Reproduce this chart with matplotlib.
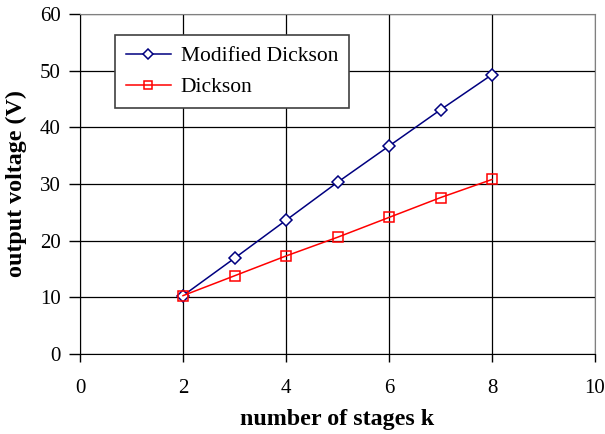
import matplotlib
matplotlib.use("Agg")
import matplotlib.pyplot as plt

# number of stages and measured output voltages
stages = [2, 3, 4, 5, 6, 7, 8]
modified_dickson = [10.3, 16.9, 23.6, 30.3, 36.7, 43.1, 49.3]
dickson = [10.3, 13.8, 17.3, 20.6, 24.1, 27.6, 30.8]

x_ticks = [0, 2, 4, 6, 8, 10]
y_ticks = [0, 10, 20, 30, 40, 50, 60]

plt.rcParams['font.family'] = ['Liberation Serif', 'DejaVu Serif']

fig = plt.figure(figsize=(6.05, 4.34), dpi=100)
ax = fig.add_axes([80 / 605, 1 - 354 / 434, 515 / 605, 340 / 434])

ax.plot(stages, modified_dickson, color='#000080', lw=1.1, marker='D', ms=6,
        mfc='white', mec='#000080', mew=1.1, label='Modified Dickson')
ax.plot(stages, dickson, color='#ff0000', lw=1.1, marker='s', ms=7,
        mfc='none', mec='#ff0000', mew=1.1, label='Dickson')

ax.set_xlim(0, 10)
ax.set_ylim(0, 60)
ax.set_xticks(x_ticks)
ax.set_yticks(y_ticks)
ax.grid(True, color='black', lw=0.9)
ax.set_axisbelow(True)
ax.tick_params(axis='x', direction='out', length=6, width=1, pad=12, labelsize=15)
ax.tick_params(axis='y', direction='out', length=8, width=1, pad=6, labelsize=15)
for side in ['left', 'bottom']:
    ax.spines[side].set_color('black')
for side in ['top', 'right']:
    ax.spines[side].set_color('#808080')

ax.set_xlabel('number of stages k', fontsize=17.3, fontweight='bold', labelpad=8)
ax.set_ylabel('output voltage (V)', fontsize=17.3, fontweight='bold', labelpad=9)

leg = ax.legend(loc='upper left', bbox_to_anchor=(0.068, 0.937), borderaxespad=0,
                fontsize=15.5, fancybox=False, framealpha=1, edgecolor='#404040',
                handlelength=2.1, handletextpad=0.45, borderpad=0.5,
                labelspacing=0.5, markerscale=0.8)
leg.get_frame().set_linewidth(1.2)

fig.savefig('out.png', dpi=100)
